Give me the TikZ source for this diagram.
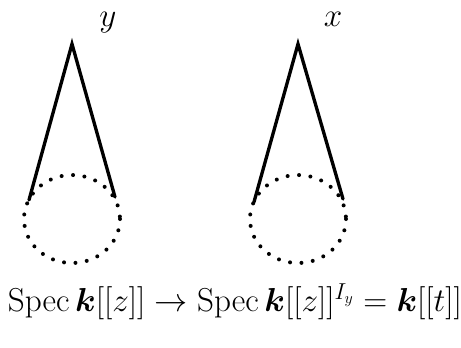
\documentclass[tikz,border=0pt]{standalone}
\usepackage{amsmath,amssymb,bm}
\begin{document}
\begin{tikzpicture}[x=0.75pt,y=-0.75pt,
  cone/.style={line width=2.5pt,line cap=round},
  dotcirc/.style={line width=3pt,line cap=round,dash pattern=on 0pt off 8.6pt},
  lbl/.style={font=\fontsize{25}{30}\selectfont,inner sep=0pt,anchor=base},
  eq/.style={font=\fontsize{24.3}{29}\selectfont,inner sep=0pt}]
\useasboundingbox (0,0) rectangle (461,347);
% left cone
\coordinate (ya) at (72,44);
\coordinate (yl) at (29,200);
\coordinate (yr) at (115,197);
\draw[dotcirc] (72,219) ellipse [x radius=48, y radius=44];
\draw[cone] (yl) -- (ya) -- (yr);
\node[lbl] (ylab) at (108,26) {$y$};
% right cone
\coordinate (xa) at (298,44);
\coordinate (xl) at (254,202);
\coordinate (xr) at (343,199);
\draw[dotcirc] (298,219) ellipse [x radius=48, y radius=44];
\draw[cone] (xl) -- (xa) -- (xr);
\node[lbl] (xlab) at (333,26) {$x$};
% bottom text
\node[eq] (txt) at (235,302) {$\operatorname{Spec}\bm{k}[[z]]\rightarrow\operatorname{Spec}\bm{k}[[z]]^{I_y}=\bm{k}[[t]]$};
\end{tikzpicture}
\end{document}
